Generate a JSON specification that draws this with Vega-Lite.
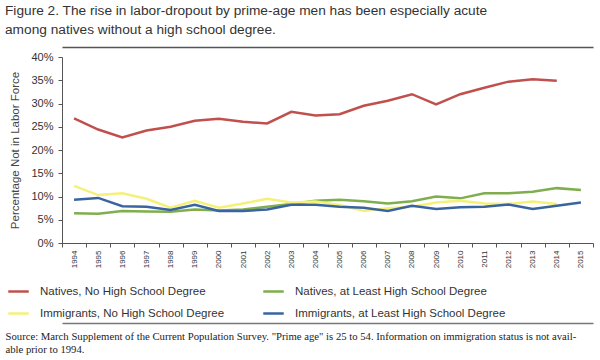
{
  "$schema": "https://vega.github.io/schema/vega-lite/v6.json",
  "width": 531,
  "height": 186,
  "autosize": {"type": "none"},
  "padding": {"left": 62, "top": 57, "right": 7, "bottom": 117},
  "background": "white",
  "config": {"view": {"stroke": null}, "font": "Liberation Sans"},
  "title": {
    "text": ["Figure 2. The rise in labor-dropout by prime-age men has been especially acute", "among natives without a high school degree."],
    "anchor": "start",
    "frame": "bounds",
    "fontSize": 13.7,
    "fontWeight": "normal",
    "font": "Liberation Sans",
    "color": "#333333",
    "lineHeight": 19,
    "offset": 10
  },
  "data": {"values": [
    {"year": 1994, "group": "Natives, No High School Degree", "value": 26.8},
    {"year": 1995, "group": "Natives, No High School Degree", "value": 24.4},
    {"year": 1996, "group": "Natives, No High School Degree", "value": 22.7},
    {"year": 1997, "group": "Natives, No High School Degree", "value": 24.2},
    {"year": 1998, "group": "Natives, No High School Degree", "value": 25.0},
    {"year": 1999, "group": "Natives, No High School Degree", "value": 26.3},
    {"year": 2000, "group": "Natives, No High School Degree", "value": 26.7},
    {"year": 2001, "group": "Natives, No High School Degree", "value": 26.1},
    {"year": 2002, "group": "Natives, No High School Degree", "value": 25.7},
    {"year": 2003, "group": "Natives, No High School Degree", "value": 28.2},
    {"year": 2004, "group": "Natives, No High School Degree", "value": 27.4},
    {"year": 2005, "group": "Natives, No High School Degree", "value": 27.7},
    {"year": 2006, "group": "Natives, No High School Degree", "value": 29.5},
    {"year": 2007, "group": "Natives, No High School Degree", "value": 30.6},
    {"year": 2008, "group": "Natives, No High School Degree", "value": 32.0},
    {"year": 2009, "group": "Natives, No High School Degree", "value": 29.8},
    {"year": 2010, "group": "Natives, No High School Degree", "value": 32.0},
    {"year": 2011, "group": "Natives, No High School Degree", "value": 33.4},
    {"year": 2012, "group": "Natives, No High School Degree", "value": 34.7},
    {"year": 2013, "group": "Natives, No High School Degree", "value": 35.2},
    {"year": 2014, "group": "Natives, No High School Degree", "value": 34.9},
    {"year": 1994, "group": "Natives, at Least High School Degree", "value": 6.4},
    {"year": 1995, "group": "Natives, at Least High School Degree", "value": 6.3},
    {"year": 1996, "group": "Natives, at Least High School Degree", "value": 6.9},
    {"year": 1997, "group": "Natives, at Least High School Degree", "value": 6.8},
    {"year": 1998, "group": "Natives, at Least High School Degree", "value": 6.7},
    {"year": 1999, "group": "Natives, at Least High School Degree", "value": 7.2},
    {"year": 2000, "group": "Natives, at Least High School Degree", "value": 7.0},
    {"year": 2001, "group": "Natives, at Least High School Degree", "value": 7.2},
    {"year": 2002, "group": "Natives, at Least High School Degree", "value": 7.8},
    {"year": 2003, "group": "Natives, at Least High School Degree", "value": 8.4},
    {"year": 2004, "group": "Natives, at Least High School Degree", "value": 9.1},
    {"year": 2005, "group": "Natives, at Least High School Degree", "value": 9.3},
    {"year": 2006, "group": "Natives, at Least High School Degree", "value": 9.0},
    {"year": 2007, "group": "Natives, at Least High School Degree", "value": 8.5},
    {"year": 2008, "group": "Natives, at Least High School Degree", "value": 9.0},
    {"year": 2009, "group": "Natives, at Least High School Degree", "value": 10.0},
    {"year": 2010, "group": "Natives, at Least High School Degree", "value": 9.6},
    {"year": 2011, "group": "Natives, at Least High School Degree", "value": 10.7},
    {"year": 2012, "group": "Natives, at Least High School Degree", "value": 10.7},
    {"year": 2013, "group": "Natives, at Least High School Degree", "value": 11.0},
    {"year": 2014, "group": "Natives, at Least High School Degree", "value": 11.8},
    {"year": 2015, "group": "Natives, at Least High School Degree", "value": 11.4},
    {"year": 1994, "group": "Immigrants, No High School Degree", "value": 12.3},
    {"year": 1995, "group": "Immigrants, No High School Degree", "value": 10.3},
    {"year": 1996, "group": "Immigrants, No High School Degree", "value": 10.7},
    {"year": 1997, "group": "Immigrants, No High School Degree", "value": 9.5},
    {"year": 1998, "group": "Immigrants, No High School Degree", "value": 7.6},
    {"year": 1999, "group": "Immigrants, No High School Degree", "value": 9.1},
    {"year": 2000, "group": "Immigrants, No High School Degree", "value": 7.6},
    {"year": 2001, "group": "Immigrants, No High School Degree", "value": 8.5},
    {"year": 2002, "group": "Immigrants, No High School Degree", "value": 9.5},
    {"year": 2003, "group": "Immigrants, No High School Degree", "value": 8.7},
    {"year": 2004, "group": "Immigrants, No High School Degree", "value": 8.9},
    {"year": 2005, "group": "Immigrants, No High School Degree", "value": 8.2},
    {"year": 2006, "group": "Immigrants, No High School Degree", "value": 6.9},
    {"year": 2007, "group": "Immigrants, No High School Degree", "value": 7.5},
    {"year": 2008, "group": "Immigrants, No High School Degree", "value": 7.8},
    {"year": 2009, "group": "Immigrants, No High School Degree", "value": 8.7},
    {"year": 2010, "group": "Immigrants, No High School Degree", "value": 9.1},
    {"year": 2011, "group": "Immigrants, No High School Degree", "value": 8.5},
    {"year": 2012, "group": "Immigrants, No High School Degree", "value": 8.4},
    {"year": 2013, "group": "Immigrants, No High School Degree", "value": 8.9},
    {"year": 2014, "group": "Immigrants, No High School Degree", "value": 8.4},
    {"year": 1994, "group": "Immigrants, at Least High School Degree", "value": 9.3},
    {"year": 1995, "group": "Immigrants, at Least High School Degree", "value": 9.7},
    {"year": 1996, "group": "Immigrants, at Least High School Degree", "value": 7.9},
    {"year": 1997, "group": "Immigrants, at Least High School Degree", "value": 7.8},
    {"year": 1998, "group": "Immigrants, at Least High School Degree", "value": 7.1},
    {"year": 1999, "group": "Immigrants, at Least High School Degree", "value": 8.2},
    {"year": 2000, "group": "Immigrants, at Least High School Degree", "value": 6.9},
    {"year": 2001, "group": "Immigrants, at Least High School Degree", "value": 6.9},
    {"year": 2002, "group": "Immigrants, at Least High School Degree", "value": 7.2},
    {"year": 2003, "group": "Immigrants, at Least High School Degree", "value": 8.2},
    {"year": 2004, "group": "Immigrants, at Least High School Degree", "value": 8.2},
    {"year": 2005, "group": "Immigrants, at Least High School Degree", "value": 7.8},
    {"year": 2006, "group": "Immigrants, at Least High School Degree", "value": 7.6},
    {"year": 2007, "group": "Immigrants, at Least High School Degree", "value": 6.9},
    {"year": 2008, "group": "Immigrants, at Least High School Degree", "value": 8.0},
    {"year": 2009, "group": "Immigrants, at Least High School Degree", "value": 7.3},
    {"year": 2010, "group": "Immigrants, at Least High School Degree", "value": 7.7},
    {"year": 2011, "group": "Immigrants, at Least High School Degree", "value": 7.8},
    {"year": 2012, "group": "Immigrants, at Least High School Degree", "value": 8.3},
    {"year": 2013, "group": "Immigrants, at Least High School Degree", "value": 7.3},
    {"year": 2014, "group": "Immigrants, at Least High School Degree", "value": 8.0},
    {"year": 2015, "group": "Immigrants, at Least High School Degree", "value": 8.7}
  ]},
  "layer": [
    {
      "mark": {"type": "line", "strokeWidth": 2.5},
      "encoding": {
        "x": {
          "field": "year", "type": "ordinal", "bandPosition": 0.5,
          "scale": {"type": "band", "paddingInner": 0, "paddingOuter": 0},
          "axis": {
            "title": null, "labelAngle": -90, "labelFontSize": 8, "labelColor": "#333333",
            "tickBand": "extent", "tickSize": 4, "tickColor": "#555555", "domainColor": "#555555",
            "labelPadding": 3, "grid": false
          }
        },
        "y": {
          "field": "value", "type": "quantitative",
          "scale": {"domain": [0, 40], "nice": false},
          "axis": {
            "values": [0, 5, 10, 15, 20, 25, 30, 35, 40],
            "labelExpr": "datum.value + '%'",
            "title": "Percentage Not in Labor Force",
            "titleFontSize": 11.5, "titleFontWeight": "normal", "titleColor": "#444444",
            "titlePadding": 10,
            "labelFontSize": 11, "labelColor": "#333333",
            "tickSize": 4, "tickColor": "#555555", "domainColor": "#555555",
            "labelPadding": 5, "grid": false
          }
        },
        "color": {
          "field": "group", "type": "nominal",
          "scale": {
            "domain": ["Natives, No High School Degree", "Natives, at Least High School Degree", "Immigrants, No High School Degree", "Immigrants, at Least High School Degree"],
            "range": ["#C0504D", "#7FAE4E", "#F5F07A", "#3A64A0"]
          },
          "legend": {
            "title": null, "orient": "none", "legendX": -55, "legendY": 223,
            "direction": "horizontal", "columns": 2, "symbolType": "stroke",
            "symbolSize": 420, "symbolStrokeWidth": 2.5, "labelFontSize": 11.5,
            "labelColor": "#333333", "labelOffset": 10, "columnPadding": 33,
            "rowPadding": 5, "labelLimit": 300
          }
        }
      }
    },
    {
      "mark": {"type": "rule", "strokeOpacity": 0},
      "encoding": {
        "x": {
          "field": "year", "type": "quantitative",
          "axis": {
            "orient": "top", "offset": 10, "title": null, "labels": false, "ticks": false,
            "grid": false, "domainColor": "#555555", "domainWidth": 1.5
          }
        }
      }
    },
    {
      "mark": {"type": "rule", "strokeOpacity": 0},
      "encoding": {
        "x": {
          "field": "year", "type": "quantitative",
          "axis": {
            "orient": "bottom", "offset": 80, "labels": false, "ticks": false,
            "grid": false, "domainColor": "#777777", "domainWidth": 1.5,
            "title": ["Source: March Supplement of the Current Population Survey. \"Prime age\" is 25 to 54. Information on immigration status is not avail-", "able prior to 1994."],
            "titleFont": "Liberation Serif", "titleFontSize": 10.7, "titleFontWeight": "normal",
            "titleColor": "#222222", "titleAnchor": "start", "titleAlign": "left",
            "titleX": -57, "titleY": 13, "titleBaseline": "middle", "titleLineHeight": 13
          }
        }
      }
    }
  ],
  "resolve": {"scale": {"x": "independent"}, "axis": {"x": "independent"}}
}
